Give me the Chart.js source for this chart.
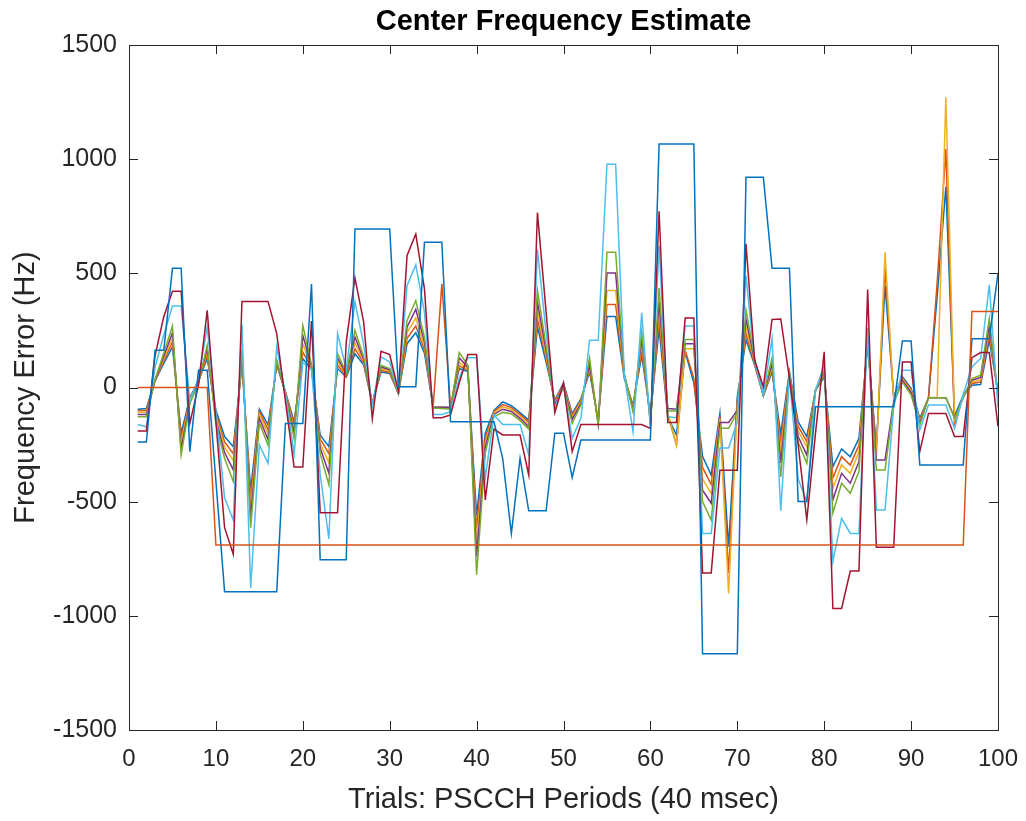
<!DOCTYPE html>
<html>
<head>
<meta charset="utf-8">
<title>Center Frequency Estimate</title>
<script src="https://cdn.jsdelivr.net/npm/chart.js@4.4.1/dist/chart.umd.min.js"></script>
<style>
  html, body { margin: 0; padding: 0; background: #ffffff; }
  #wrap { width: 1026px; height: 821px; }
</style>
</head>
<body>
<div id="wrap"><canvas id="freqChart" width="1026" height="821"></canvas></div>
<script>
// trial index 1..100 (PSCCH periods)
const trials = Array.from({ length: 100 }, (_, i) => i + 1);

const xTicks = [0, 10, 20, 30, 40, 50, 60, 70, 80, 90, 100];
const yTicks = [-1500, -1000, -500, 0, 500, 1000, 1500];

// estimates (Hz)
const est1 = [-95, -92, 30, 105, 178, -200, -45, 30, 127, -100,
    -215, -259, 100, -450, -95, -164, 97, -19, -150, 127,
    80, -208, -259, 83, 45, 148, 100, -70, 68, 61,
    -26, 192, 240, 150, -85, -85, -85, 83, 70, -560,
    -200, -100, -63, -80, -110, -143, 265, 110, -55, 20,
    -114, -50, 68, -143, 311, 311, 39, -77, 141, -120,
    258, -128, -208, 156, 20, -301, -384, -112, -697, -40,
    209, 97, -35, 68, -203, 70, -150, -215, -12, 47,
    -346, -269, -303, -223, 185, -260, 447, -40, 47, -4,
    -135, -45, 400, 879, -125, -35, 10, 13, 207, -20];

const est2 = [-102, -100, 30, 115, 199, -220, -50, 28, 140, -112,
    -238, -290, 115, -490, -105, -185, 103, -20, -165, 156,
    85, -225, -290, 98, 50, 170, 108, -70, 75, 66,
    -26, 215, 269, 165, -85, 454, -85, 95, 75, -620,
    -220, -105, -75, -88, -118, -152, 301, 125, -62, 15,
    -122, -55, 78, -148, 364, 364, 45, -84, 165, -130,
    300, -120, -252, 163, 40, -350, -425, -125, -812, -60,
    235, 103, -35, 78, -240, 65, -170, -237, -12, 55,
    -397, -303, -340, -252, 195, -280, 520, -45, 42, -10,
    -142, -45, 460, 1044, -165, -38, 18, 24, 230, -25];

const est3 = [-108, -108, 32, 125, 217, -245, -55, 25, 155, -125,
    -262, -320, 130, -530, -118, -205, 108, -22, -180, 192,
    90, -245, -330, 115, 55, 195, 116, -72, 82, 72,
    -26, 240, 304, 182, -87, -87, -88, 110, 80, -680,
    -240, -110, -85, -96, -126, -162, 338, 140, -68, 10,
    -130, -62, 88, -153, 425, 425, 50, -92, 190, -140,
    340, -110, -252, 170, 170, -400, -465, -138, -902, -80,
    265, 110, -35, 90, -280, 60, -190, -260, -12, 62,
    -441, -339, -376, -282, 205, -300, 592, -50, 37, -15,
    -150, -44, -44, 1271, -140, -40, 25, 34, 250, -30];

const est4 = [-118, -118, 32, 137, 240, -270, -62, 22, 170, -140,
    -285, -361, 150, -570, -135, -228, 114, -25, -200, 228,
    95, -265, -375, 130, 60, 221, 124, -72, 90, 78,
    -26, 265, 342, 200, -88, -88, -90, 130, 88, -740,
    -260, -118, -95, -105, -135, -172, 374, 160, -75, 5,
    -140, -70, 100, -160, 501, 501, 55, -99, 215, -150,
    374, -92, -95, 192, 192, -450, -507, -153, -153, -100,
    300, 117, -35, 105, -330, 55, -215, -295, -12, 70,
    -492, -376, -419, -325, 215, -317, -317, -60, 32, -22,
    -157, -45, -45, -45, -130, -42, 32, 44, 272, -35];

const est5 = [-128, -128, 35, 150, 269, -295, -70, 20, 185, -160,
    -310, -412, 170, -614, -155, -252, 120, -28, -223, 272,
    100, -290, -426, 148, 65, 250, 135, -75, 97, 83,
    -26, 294, 381, 220, -90, -92, -95, 153, 97, -820,
    -285, -128, -109, -115, -145, -182, 425, 180, -84, 0,
    -157, -77, 130, -169, 592, 592, 61, -106, 243, -164,
    436, -103, -103, 210, 210, -500, -581, -178, -178, -110,
    338, 125, -35, 130, -392, 50, -240, -332, -12, 76,
    -550, -419, -463, -368, 228, -361, -361, -70, 25, -33,
    -164, -45, -45, -45, -135, -45, 39, 54, 301, -40];

const est6 = [-162, -172, 90, 230, 357, 357, -60, 40, 265, -110,
    -483, -581, 275, -878, -252, -332, 178, -30, -291, 110,
    80, -380, -663, 236, 80, 374, 190, -80, 134, 112,
    -20, 447, 537, 330, -118, -118, -106, 40, 130, 130,
    -397, -120, -162, -162, -162, -295, 604, 240, -90, 10,
    -223, -135, 207, 207, 978, 978, 54, -194, 327, -170,
    621, -128, -132, 269, 269, -639, -639, -265, -265, -150,
    489, 115, -30, 214, -540, 54, -400, -500, -10, 98,
    -762, -573, -639, -639, 260, -536, -536, -84, 76, 76,
    -186, -77, -77, -77, -179, -30, 90, 127, 450, -87];

const est7 = [-191, -191, 140, 310, 422, 422, -157, 10, 338, -150,
    -614, -730, 377, 377, 377, 377, 236, -60, -348, -348,
    291, -548, -548, -548, 200, 480, 287, -137, 159, 144,
    -15, 578, 672, 432, -132, -132, -120, 20, 144, 144,
    -492, -182, -208, -208, -208, -383, 766, 330, -110, 20,
    -281, -162, -162, -162, -162, -162, -162, -162, -162, -179,
    772, -153, -153, 304, 304, -812, -812, -362, -362, -362,
    629, 119, 3, 298, 300, 40, -250, -579, -200, 156,
    -968, -968, -804, -804, 429, -700, -700, -700, 112, 112,
    -281, -114, -114, -114, -215, -215, 131, 153, 153, -170];

const est8 = [-239, -239, 163, 163, 522, 522, -281, 76, 76, -410,
    -894, -894, -894, -894, -894, -894, -894, -158, -158, -158,
    453, -754, -754, -754, -754, 694, 694, 694, 694, 694,
    3, 3, 3, 636, 636, 636, -150, -150, -150, -150,
    -150, -150, -310, -639, -310, -540, -540, -540, -200, -200,
    -394, -230, -230, -230, -230, -230, -230, -230, -230, -230,
    1066, 1066, 1066, 1066, 1066, -1166, -1166, -1166, -1166, -1166,
    921, 921, 921, 522, 522, 522, -499, -499, -84, -84,
    -84, -84, -84, -84, -84, -84, -84, -84, 204, 204,
    -339, -339, -339, -339, -339, -339, 214, 214, 214, 500];

const est9 = [0, 0, 0, 0, 0, 0, 0, 0, 0, -690,
    -690, -690, -690, -690, -690, -690, -690, -690, -690, -690,
    -690, -690, -690, -690, -690, -690, -690, -690, -690, -690,
    -690, -690, -690, -690, -690, -690, -690, -690, -690, -690,
    -690, -690, -690, -690, -690, -690, -690, -690, -690, -690,
    -690, -690, -690, -690, -690, -690, -690, -690, -690, -690,
    -690, -690, -690, -690, -690, -690, -690, -690, -690, -690,
    -690, -690, -690, -690, -690, -690, -690, -690, -690, -690,
    -690, -690, -690, -690, -690, -690, -690, -690, -690, -690,
    -690, -690, -690, -690, -690, -690, 333, 333, 333, 333];

const allSeries = [est1, est2, est3, est4, est5, est6, est7, est8, est9];
const lineColors = ['#0072BD', '#D95319', '#EDB120', '#7E2F8E', '#77AC30',
    '#4DBEEE', '#A2142F', '#0072BD', '#D95319'];

const FONT = "'Liberation Sans', Arial, Helvetica, sans-serif";
const AXIS_COLOR = '#262626';

// MATLAB style box with inward ticks on all four sides
const boxTicks = {
    id: 'boxTicks',
    afterDraw(chart) {
        const { ctx, chartArea: a, scales: { x, y } } = chart;
        const len = 9;
        ctx.save();
        ctx.strokeStyle = AXIS_COLOR;
        ctx.lineWidth = 1;
        ctx.beginPath();
        x.ticks.forEach(t => {
            const px = Math.round(x.getPixelForValue(t.value)) + 0.5;
            ctx.moveTo(px, a.bottom); ctx.lineTo(px, a.bottom - len);
            ctx.moveTo(px, a.top); ctx.lineTo(px, a.top + len);
        });
        y.ticks.forEach(t => {
            const py = Math.round(y.getPixelForValue(t.value)) + 0.5;
            ctx.moveTo(a.left, py); ctx.lineTo(a.left + len, py);
            ctx.moveTo(a.right, py); ctx.lineTo(a.right - len, py);
        });
        ctx.stroke();
        ctx.strokeRect(Math.round(a.left) + 0.5, Math.round(a.top) + 0.5,
            Math.round(a.right - a.left), Math.round(a.bottom - a.top));
        ctx.restore();
    }
};

new Chart(document.getElementById('freqChart'), {
    type: 'line',
    data: {
        datasets: allSeries.map((vals, i) => ({
            label: 'Estimate ' + (i + 1),
            data: vals.map((v, k) => ({ x: trials[k], y: v })),
            borderColor: lineColors[i],
            borderWidth: 1.5,
            pointRadius: 0,
            tension: 0,
            fill: false,
            order: allSeries.length - i
        }))
    },
    options: {
        responsive: false,
        devicePixelRatio: 1,
        animation: false,
        layout: { padding: { left: 0, right: 28, top: 0, bottom: 0 } },
        plugins: {
            legend: { display: false },
            tooltip: { enabled: false },
            title: {
                display: true,
                fullSize: false,
                text: 'Center Frequency Estimate',
                color: '#000000',
                font: { family: FONT, size: 29, weight: 'bold' },
                padding: { top: 5, bottom: 5.2 }
            }
        },
        scales: {
            x: {
                type: 'linear',
                min: 0,
                max: 100,
                afterBuildTicks: s => { s.ticks = xTicks.map(v => ({ value: v })); },
                afterFit: s => {
                    s.height = 91;
                    s.paddingLeft = 0;
                    s.paddingRight = 0;
                },
                grid: { display: false, drawTicks: false },
                border: { display: false },
                ticks: {
                    color: AXIS_COLOR,
                    font: { family: FONT, size: 24 },
                    padding: 15,
                    maxRotation: 0,
                    autoSkip: false,
                    callback: v => String(v)
                },
                title: {
                    display: true,
                    text: 'Trials: PSCCH Periods (40 msec)',
                    color: AXIS_COLOR,
                    font: { family: FONT, size: 29 },
                    padding: { top: 0, bottom: 3.6 }
                }
            },
            y: {
                type: 'linear',
                min: -1500,
                max: 1500,
                afterBuildTicks: s => { s.ticks = yTicks.map(v => ({ value: v })); },
                afterFit: s => { s.width = 129; },
                grid: { display: false, drawTicks: false },
                border: { display: false },
                ticks: {
                    color: AXIS_COLOR,
                    font: { family: FONT, size: 25 },
                    padding: 12,
                    autoSkip: false,
                    callback: v => String(v)
                },
                title: {
                    display: true,
                    text: 'Frequency Error (Hz)',
                    color: AXIS_COLOR,
                    font: { family: FONT, size: 29 },
                    padding: { top: 8.6, bottom: 0 }
                }
            }
        }
    },
    plugins: [boxTicks]
});
</script>
</body>
</html>
